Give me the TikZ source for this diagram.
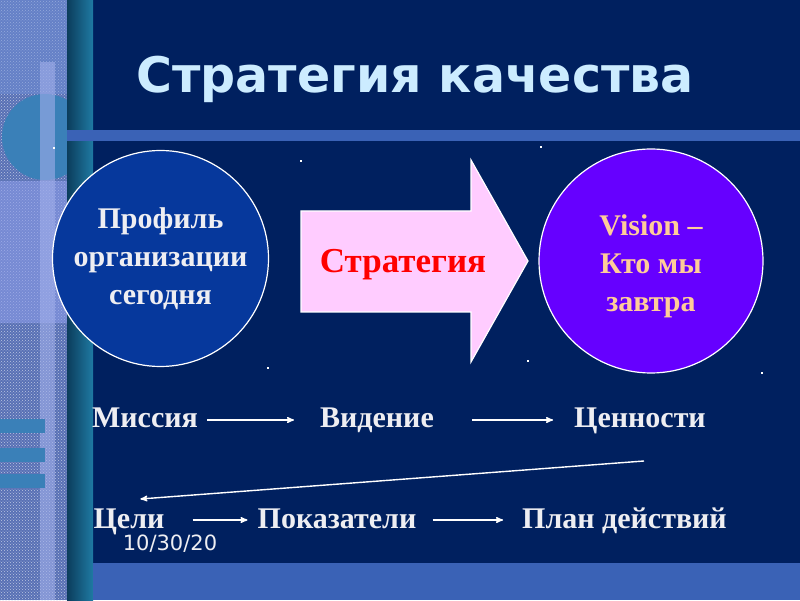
\documentclass[tikz,border=0pt]{standalone}
\usepackage{fontspec}
\setmainfont{Liberation Serif}
\newfontfamily\headfont{DejaVu Sans}
\usetikzlibrary{arrows}
\usetikzlibrary{positioning}
\usetikzlibrary{patterns}
\definecolor{slidenavy}{HTML}{00205F}
\definecolor{circleblue}{HTML}{06389C}
\definecolor{visionviolet}{HTML}{6600FF}
\definecolor{arrowpink}{HTML}{FFCCFF}
\definecolor{visionpeach}{HTML}{FFCC99}
\definecolor{titleblue}{HTML}{CCECFF}
\definecolor{textwhite}{HTML}{EEEEF2}
\definecolor{bandblue}{HTML}{3A62B6}
\definecolor{tealdark}{HTML}{0B3D5C}
\definecolor{teallight}{HTML}{1F7AA3}
\definecolor{texblue}{HTML}{5870B5}
\definecolor{texlight}{HTML}{7090D8}
\definecolor{texpurple}{HTML}{8A9BE8}
\definecolor{decoteal}{HTML}{3A80B8}
\definecolor{barlight}{HTML}{A0AEEA}
\tikzset{
	>=stealth',
	profil/.style={
		circle,
		draw=white, line width=1.2pt,
		minimum size=216pt,
		inner sep=0pt},
	profiltext/.style={
		align=center,
		inner sep=0pt,
		font=\bfseries\fontsize{30}{38}\selectfont},
	chainlabel/.style={
		inner sep=0pt,
		anchor=base,
		text=textwhite,
		font=\bfseries\fontsize{30}{36}\selectfont},
	flow/.style={draw=white, line width=1.4pt, ->},
	dotmark/.style={fill=white, minimum size=2.5pt, inner sep=0pt},
}

\begin{document}
\begin{tikzpicture}[x=1pt,y=1pt]
	\useasboundingbox (0,0) rectangle (800,600);
	\fill[slidenavy] (0,0) rectangle (800,600);
	% textured strip on the left
	\fill[texblue] (0,0) rectangle (67,600);
	\fill[pattern=crosshatch dots, pattern color=white!60!texblue] (0,0) rectangle (67,600);
	\fill[texlight, opacity=.5] (0,506) rectangle (67,600);
	\fill[texpurple, opacity=.6] (0,277) rectangle (67,419);
	\fill[decoteal] (45,463) circle (43);
	\fill[barlight, opacity=.6] (40,0) rectangle (55,538);
	\foreach \y in {167,138,112}
		\fill[decoteal] (0,\y) rectangle (45,\y+14);
	\shade[left color=tealdark, right color=teallight] (67,0) rectangle (93,600);
	\fill[bandblue] (67,459) rectangle (800,470);
	\fill[bandblue] (93,0) rectangle (800,37);
	% small dots
	\node[dotmark] (d1) at (54,452) {};
	\node[dotmark] (d2) at (301,439) {};
	\node[dotmark] (d3) at (541,453) {};
	\node[dotmark] (d4) at (268,232) {};
	\node[dotmark] (d5) at (528,239) {};
	\node[dotmark] (d6) at (762,227) {};
	% title
	\node[font=\headfont\bfseries\fontsize{49}{58}\selectfont, text=titleblue, anchor=base] (title) at (415,507) {Стратегия качества};
	% today -> strategy -> tomorrow
	\node[profil, fill=circleblue] (today) at (160.5,341.5) {};
	\node[profiltext, text=textwhite] (todaytext) at (today.center) {Профиль\\организации\\сегодня};
	\filldraw[fill=arrowpink, draw=white, line width=1.2pt] (301,389) -- (471,389) -- (471,440) -- (528,339) -- (471,238) -- (471,288) -- (301,288) -- cycle;
	\node[font=\bfseries\fontsize{35}{40}\selectfont, text=red, anchor=base] (strategy) at (403,327) {Стратегия};
	\node[profil, fill=visionviolet, minimum size=224pt] (tomorrow) at (651,339) {};
	\node[profiltext, text=visionpeach] (tomorrowtext) at ([yshift=-5pt]tomorrow.center) {Vision –\\Кто мы\\завтра};
	% chain of steps
	\node[chainlabel] (missia) at (145,172) {Миссия};
	\node[chainlabel] (videnie) at (377,172) {Видение};
	\node[chainlabel] (cennosti) at (640,172) {Ценности};
	\node[chainlabel] (celi) at (129,72) {Цели};
	\node[chainlabel] (pokazateli) at (337,72) {Показатели};
	\node[chainlabel] (plan) at (624.5,72) {План действий};
	\draw[flow] ([shift={(9pt,8pt)}]missia.base east) -- ([shift={(-26pt,8pt)}]videnie.base west);
	\draw[flow] ([shift={(38pt,8pt)}]videnie.base east) -- ([shift={(-21pt,8pt)}]cennosti.base west);
	\draw[flow] ([shift={(4pt,-33pt)}]cennosti.base) -- ([shift={(47pt,29pt)}]celi.base west);
	\draw[flow] ([shift={(28pt,8pt)}]celi.base east) -- ([shift={(-10pt,8pt)}]pokazateli.base west);
	\draw[flow] ([shift={(16pt,8pt)}]pokazateli.base east) -- ([shift={(-19pt,8pt)}]plan.base west);
	\node[font=\headfont\fontsize{21}{25}\selectfont, text=textwhite, anchor=base] (date) at (170,50) {10/30/20};
\end{tikzpicture}
\end{document}
